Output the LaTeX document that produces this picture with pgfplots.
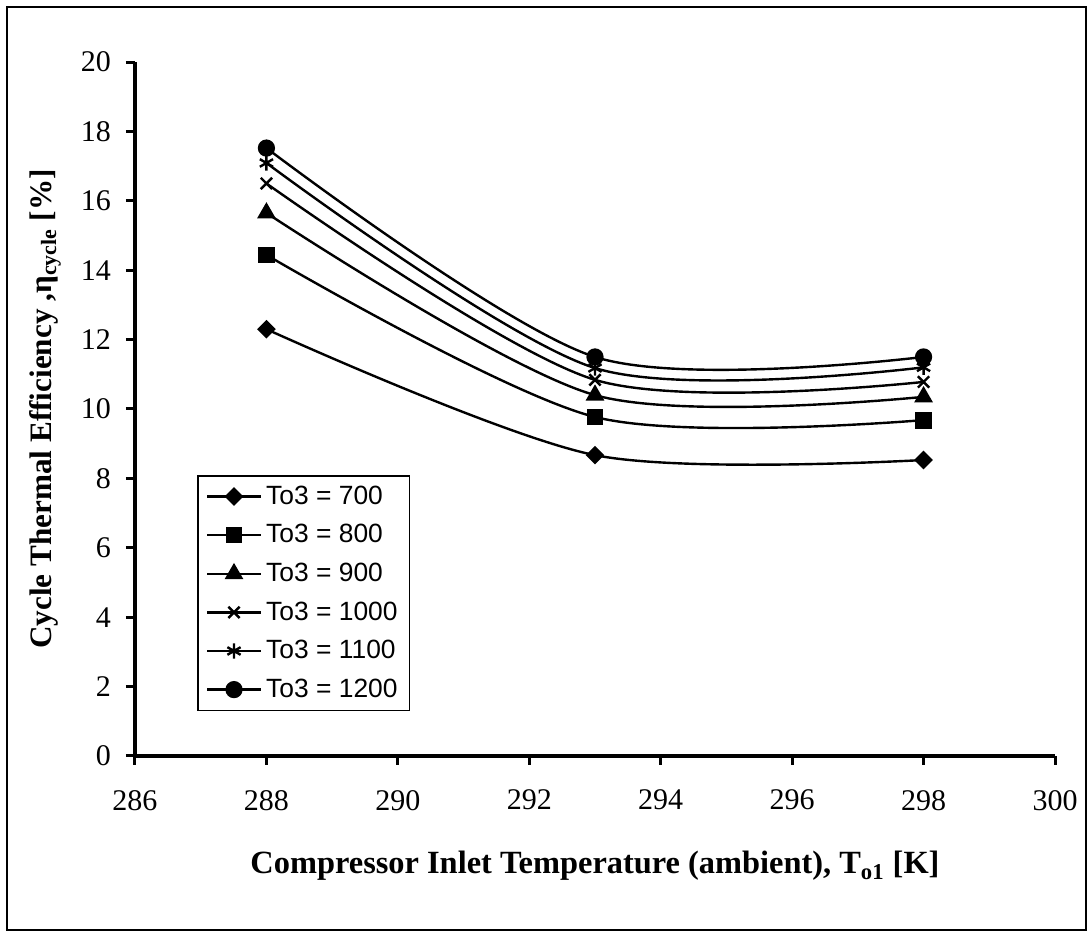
\documentclass[border=0pt]{standalone}
\usepackage{pgfplots}
\pgfplotsset{compat=1.18}
\usepackage{fontspec}
\setmainfont{Liberation Serif}
\newfontfamily\arial{Liberation Sans}
\begin{document}
\begin{tikzpicture}
\useasboundingbox (0,0) rectangle (544.5pt,466.5pt);
\draw[line width=1pt] (3.5pt,1.5pt) rectangle (543pt,463pt);
\begin{axis}[
  at={(67.5pt,88.5pt)}, anchor=south west,
  scale only axis, width=460pt, height=347pt,
  xmin=286, xmax=300, ymin=0, ymax=20,
  xtick={286,288,...,300}, ytick={0,2,...,20},
  axis x line*=bottom, axis y line*=left,
  axis line style={line width=2pt,-},
  tick align=outside, major tick length=4.5pt,
  tick style={line width=1.5pt,black},
  /pgf/number format/assume math mode=true,
  /pgf/number format/1000 sep={},
  ticklabel style={font=\fontsize{15}{18}\selectfont},
  xticklabel style={yshift=-9pt},
  yticklabel style={xshift=-4pt},
  every axis y label/.style={at={(rel axis cs:0,0.5)}, xshift=-45pt, rotate=90, anchor=center, font=\bfseries\fontsize{15.6}{18}\selectfont},
  every axis x label/.style={at={(rel axis cs:0.5,0)}, yshift=-59pt, anchor=base, font=\bfseries\fontsize{16.2}{19}\selectfont},
  ylabel={Cycle Thermal Efficiency ,η\textsubscript{cycle} [\%]},
  xlabel={Compressor Inlet Temperature (ambient), T\textsubscript{o1} [K]},
  legend style={at={(0.0674,0.405)}, anchor=north west, draw=black, line width=0.8pt,
    font=\arial\fontsize{13.2}{15}\selectfont, row sep=4.6pt, cells={anchor=west},
    inner xsep=4pt, inner ysep=3pt},
  legend image code/.code={\draw[mark repeat=2,mark phase=2,#1] plot coordinates {(0pt,0pt) (13.5pt,0pt) (27pt,0pt)};},
  every axis plot/.append style={black, line width=1.2pt, smooth, mark options={solid, fill=black}},
]
\addplot[mark=square*, mark size=2.7pt, mark options={rotate=45}] coordinates {(288,12.3) (293,8.67) (298,8.53)};
\addlegendentry{To3 = 700}
\addplot[mark=square*, mark size=3.6pt] coordinates {(288,14.44) (293,9.77) (298,9.68)};
\addlegendentry{To3 = 800}
\addplot[mark=triangle*, mark size=4.2pt] coordinates {(288,15.65) (293,10.4) (298,10.35)};
\addlegendentry{To3 = 900}
\addplot[mark=x, mark size=4pt] coordinates {(288,16.5) (293,10.84) (298,10.78)};
\addlegendentry{To3 = 1000}
\addplot[mark=asterisk, mark size=3.8pt] coordinates {(288,17.09) (293,11.18) (298,11.2)};
\addlegendentry{To3 = 1100}
\addplot[mark=*, mark size=3.7pt] coordinates {(288,17.52) (293,11.5) (298,11.5)};
\addlegendentry{To3 = 1200}
\end{axis}
\end{tikzpicture}
\end{document}
